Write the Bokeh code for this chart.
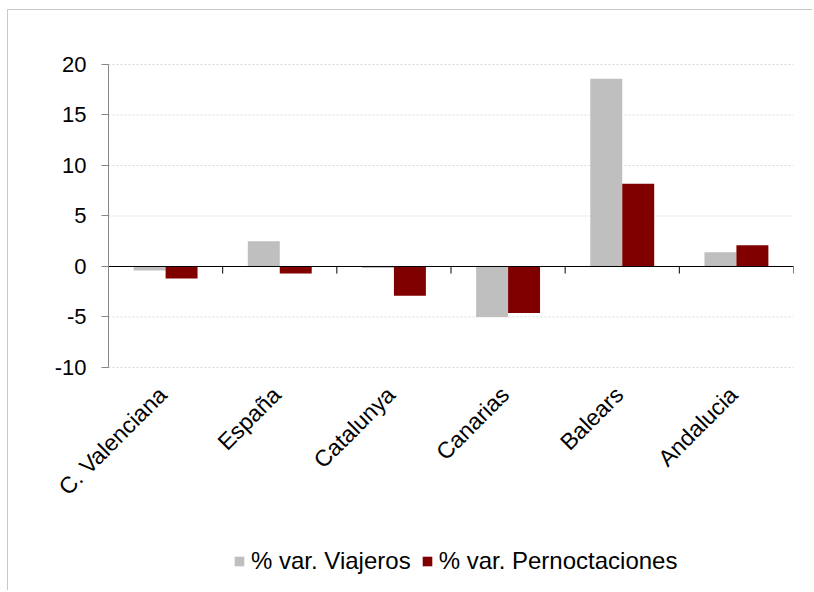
import numpy as np
from bokeh.plotting import figure
from bokeh.models import ColumnDataSource, Legend, LegendItem, FixedTicker, Range1d
from bokeh.core.properties import value
from bokeh.embed import file_html
from bokeh.resources import INLINE

categories = ["C. Valenciana", "España", "Catalunya", "Canarias", "Balears", "Andalucia"]
viajeros = [-0.4, 2.5, -0.15, -5.0, 18.6, 1.4]
pernoctaciones = [-1.2, -0.7, -2.9, -4.6, 8.2, 2.1]
series_names = ["% var. Viajeros", "% var. Pernoctaciones"]
y_ticks = [-10, -5, 0, 5, 10, 15, 20]

FONT = "Liberation Sans"
GREY = "#bfbfbf"
RED = "#800000"

n = len(categories)
centers = np.arange(n) + 0.5
bw = 0.28
y_min, y_max = -10, 20
# the frame extends around the value area to hold axis labels and legend
x_left = -0.876
y_floor = y_min - 22.18
y_ceil = y_max + 1.386

p = figure(width=805, height=581, output_backend="svg", toolbar_location=None,
           x_range=Range1d(x_left, n), y_range=Range1d(y_floor, y_ceil),
           min_border_left=0, min_border_right=20, min_border_top=40, min_border_bottom=0,
           styles={"margin-left": "7px", "margin-top": "9px",
                   "border-top": "1px solid #c8c8c8", "border-left": "1px solid #c8c8c8"})
p.outline_line_color = None
p.background_fill_color = "white"
p.border_fill_color = "white"
p.xaxis.visible = False
p.xgrid.grid_line_color = None
p.ygrid.grid_line_color = None

# dotted horizontal gridlines across the category area
p.segment(x0=np.zeros(len(y_ticks)), y0=y_ticks, x1=np.full(len(y_ticks), n), y1=y_ticks,
          line_color="#d9d9d9", line_width=1, line_dash="2 2")

src = ColumnDataSource(dict(xv=centers - bw / 2, xp=centers + bw / 2,
                            v=viajeros, pn=pernoctaciones))
r1 = p.vbar(x="xv", top="v", bottom=0, width=bw, source=src, fill_color=GREY, line_color=None)
r2 = p.vbar(x="xp", top="pn", bottom=0, width=bw, source=src, fill_color=RED, line_color=None)

# zero line with category boundary ticks
p.segment(x0=[0], y0=[0], x1=[n], y1=[0], line_color="black", line_width=1)
bounds = np.arange(n + 1)
p.segment(x0=bounds, y0=np.zeros(n + 1), x1=bounds, y1=np.full(n + 1, -0.7),
          line_color="black", line_width=1)

# category labels
lab_src = ColumnDataSource(dict(x=centers, y=np.full(n, y_min - 2.0), t=categories))
p.text(x="x", y="y", text="t", source=lab_src, angle=np.pi / 4,
       text_align="right", text_baseline="middle", x_offset=-3, y_offset=3,
       text_font=value(FONT), text_font_size=value("23px"), text_color="black")

# y axis at x = 0
p.yaxis.fixed_location = 0
p.yaxis.bounds = (y_min, y_max)
p.yaxis.ticker = FixedTicker(ticks=y_ticks)
p.yaxis.major_label_overrides = {t: str(t) for t in y_ticks}
p.yaxis.axis_line_color = "#868686"
p.yaxis.major_tick_line_color = "#868686"
p.yaxis.major_tick_out = 7
p.yaxis.major_tick_in = 0
p.yaxis.minor_tick_line_color = None
p.yaxis.major_label_standoff = 15
p.yaxis.major_label_text_font = FONT
p.yaxis.major_label_text_font_size = "22px"
p.yaxis.major_label_text_color = "black"

legend = Legend(items=[LegendItem(label=series_names[0], renderers=[r1]),
                       LegendItem(label=series_names[1], renderers=[r2])],
                orientation="horizontal", location=(225, 16),
                border_line_color=None, background_fill_alpha=0,
                label_text_font=FONT, label_text_font_size="24px", label_text_color="black",
                glyph_width=12, glyph_height=12, label_standoff=6, spacing=10,
                padding=0, margin=0)
p.add_layout(legend, "center")

open("out.html", "w").write(file_html(p, INLINE))
